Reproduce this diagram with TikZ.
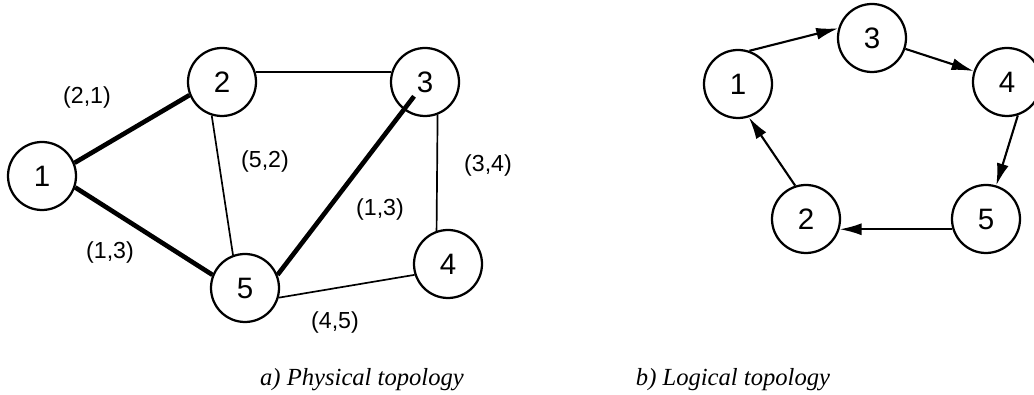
\documentclass[tikz,border=0pt]{standalone}
\usepackage{fontspec}
\setmainfont{Liberation Serif}
\setsansfont{Liberation Sans}
\usetikzlibrary{arrows.meta}

\begin{document}
\begin{tikzpicture}[
  line width=1.2pt,  vertex/.style={circle,draw,line width=1.6pt,minimum size=1.7cm,inner sep=0pt,font=\sffamily\fontsize{21}{24}\selectfont},  heavy/.style={line width=3.3pt},  wlabel/.style={font=\sffamily\fontsize{16.5}{19}\selectfont},  caption/.style={font=\itshape\fontsize{17.5}{21}\selectfont},  ring/.style={line width=1.5pt,-{Latex[length=5.5mm,width=3mm]}}
]
  \useasboundingbox (0,0) rectangle (25.85,9.875);
  % a) physical topology
  \node[vertex] (p1) at (1.050,5.475) {1};
  \node[vertex] (p2) at (5.550,7.825) {2};
  \node[vertex] (p3) at (10.625,7.825) {3};
  \node[vertex] (p4) at (11.200,3.275) {4};
  \node[vertex] (p5) at (6.125,2.675) {5};
  \draw[heavy] (p1.22) -- (p2.202);
  \draw[heavy] (p1.-19) -- (p5.158);
  \draw[heavy,shorten >=0.45cm] (p5.22) -- (p3.center);
  \draw (p2.17) -- (p3.163);
  \draw (p2.-107) -- (p5.110);
  \draw (p3.-69) -- (p4.109);
  \draw (p4.198) -- (p5.-16);
  \node[wlabel] (w21) at (2.175,7.425) {(2,1)};
  \node[wlabel] (w52) at (6.625,5.825) {(5,2)};
  \node[wlabel] (w34) at (12.200,5.725) {(3,4)};
  \node[wlabel] (w13b) at (9.500,4.625) {(1,3)};
  \node[wlabel] (w13a) at (2.750,3.550) {(1,3)};
  \node[wlabel] (w45) at (8.375,1.800) {(4,5)};
  \node[caption] (capa) at (9.050,0.375) {a) Physical topology};
  % b) logical topology
  \node[vertex] (l1) at (18.450,7.775) {1};
  \node[vertex] (l2) at (20.150,4.400) {2};
  \node[vertex] (l3) at (21.800,8.925) {3};
  \node[vertex] (l4) at (25.175,7.825) {4};
  \node[vertex] (l5) at (24.650,4.400) {5};
  \draw[ring] (l1.71) -- (l3.164);
  \draw[ring] (l3) -- (l4);
  \draw[ring] (l4.-72) -- (l5.73);
  \draw[ring] (l5.-163) -- (l2.-17);
  \draw[ring] (l2.108) -- (l1.-72);
  \node[caption] (capb) at (18.325,0.375) {b) Logical topology};
\end{tikzpicture}
\end{document}
